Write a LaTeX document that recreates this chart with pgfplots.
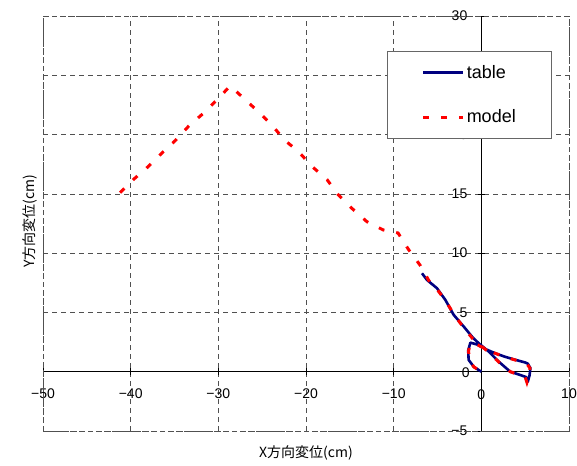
\documentclass[border=0pt]{standalone}
\usepackage{fontspec}
\setmainfont{Liberation Sans}
\newfontfamily\jp{Noto Sans CJK JP}
\usepackage{pgfplots}
\pgfplotsset{compat=1.18}
\definecolor{navyb}{RGB}{0,0,128}
\definecolor{gridc}{RGB}{80,80,80}
\begin{document}
\begin{tikzpicture}
\begin{axis}[
  scale only axis,
  width=526pt, height=415pt,
  xmin=-50, xmax=10, ymin=-5, ymax=30,
  axis lines=middle,
  axis line style={-, black, line width=0.8pt},
  xtick={-50,-40,-30,-20,-10,0,10},
  xticklabels={−50,−40,−30,−20,−10,0,10},
  ytick={-5,0,5,10,15,20,25,30},
  yticklabels={−5,0,5,10,15,20,25,30},
  tick style={black, line width=0.6pt},
  major tick length=7pt,
  tick align=center,
  xticklabel style={anchor=north, font=\fontsize{14}{16}\selectfont, yshift=-10pt},
  yticklabel style={anchor=east, font=\fontsize{14}{16}\selectfont, xshift=-7pt},
  grid=major,
  major grid style={gridc, dashed, line width=0.7pt, dash pattern=on 5pt off 4pt},
  clip=false,
  legend style={at={(rel axis cs:0.968,0.916)}, anchor=north east,
    draw=gray!80!black, line width=0.8pt, fill=white,
    font=\fontsize{18}{20}\selectfont,
    inner xsep=34pt, inner ysep=12pt, row sep=26pt},
  legend cell align=left,
  legend image code/.code={\draw[#1] (0pt,0pt) -- (40pt,0pt);},
]
\draw[gridc, dashed, line width=0.9pt, dash pattern=on 5pt off 3pt] (rel axis cs:0,0) rectangle (rel axis cs:1,1);
\addplot[navyb, line width=2.6pt, line join=round] coordinates {
(-6.77,8.3) (-6.2,7.74) (-5.06,7.04) (-4.1,6.05) (-3.16,4.8) (-2.0,3.8)
(-1.0,2.9) (-0.3,2.4) (0.84,1.7) (2.0,0.84) (3.3,0.0) (4.45,-0.28)
(5.1,-0.45) (5.3,-0.85) (5.5,-0.3) (5.6,0.3) (5.3,0.68) (5.0,0.78)
(3.9,1.0) (2.7,1.26) (1.6,1.55) (0.5,1.9) (-0.5,2.3) (-1.25,2.45)
(-1.5,1.8) (-1.45,1.0) (-0.87,0.42) (0,0)
};
\addlegendentry{table}
\addplot[red, line width=3pt, dash pattern=on 6pt off 12pt] coordinates {
(-41.2,15.1) (-39.7,16.2) (-38.0,17.3) (-36.5,18.4) (-34.9,19.5) (-33.4,20.7)
(-31.7,21.8) (-30.2,22.9) (-28.65,24.1) (-27.1,23.06) (-25.4,21.9) (-23.9,20.8)
(-22.4,19.5) (-20.9,18.6) (-19.3,17.3) (-17.6,16.2) (-16.3,14.9) (-14.8,13.8)
(-13.05,12.65) (-11.2,11.96) (-9.5,11.7) (-8.3,10.3) (-7.0,9.0)
(-6.0,7.7) (-5.0,6.9) (-4.0,5.9) (-3.1,4.8) (-2.0,3.7) (-1.0,2.8)
(-0.3,2.35) (0.84,1.65) (2.0,0.8) (3.3,0.0) (4.45,-0.3) (5.0,-0.45)
(5.2,-0.9) (5.45,-0.3) (5.55,0.3) (5.2,0.65) (4.9,0.75) (3.9,0.98)
(2.7,1.24) (1.6,1.55) (0.5,1.9) (-0.5,2.3) (-1.2,2.4) (-1.45,1.8)
(-1.4,1.0) (-0.85,0.4) (0,0)
};
\addlegendentry{model}
\node[font=\fontsize{14}{16}\selectfont, yshift=-23pt] at (axis cs:0,0) {0};
\node[font=\fontsize{14}{16}\selectfont, xshift=-15.5pt, yshift=-1pt] at (axis cs:0,0) {0};
\end{axis}
\node[font=\jp\fontsize{14}{16}\selectfont] at (263pt,-22pt) {X方向変位(cm)};
\node[font=\jp\fontsize{14}{16}\selectfont, rotate=90] at (-13pt,210pt) {Y方向変位(cm)};
\pgfresetboundingbox
\useasboundingbox (-43pt,-34pt) rectangle (534pt,431pt);
\end{tikzpicture}
\end{document}
